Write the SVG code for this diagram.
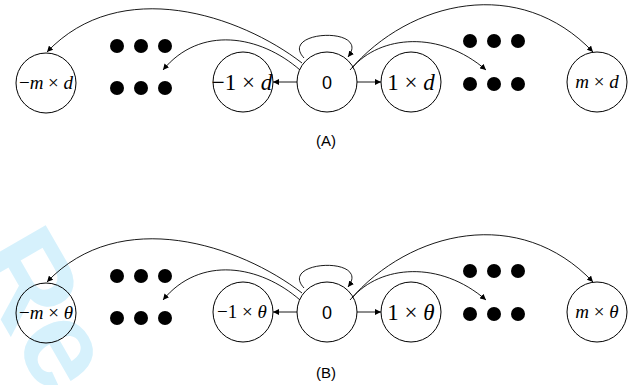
<svg xmlns="http://www.w3.org/2000/svg" width="638" height="385" viewBox="0 0 638 385">
<style>
.node{fill:none;stroke:#000;stroke-width:1}
.edge{fill:none;stroke:#000;stroke-width:0.9}
.dot{fill:#000}
.lbl{font-family:"Liberation Serif",serif;fill:#000;text-anchor:middle}
.lbl .v{font-style:italic}
.sm{font-size:19px}
.lg{font-size:23px}
.zero{font-family:"Liberation Sans",sans-serif;font-size:18px;text-anchor:middle}
.cap{font-family:"Liberation Sans",sans-serif;font-size:15px;text-anchor:middle}
</style>
<defs>
<marker id="ah" viewBox="0 0 10 10" refX="10" refY="5" markerWidth="6" markerHeight="6" markerUnits="userSpaceOnUse" orient="auto">
<path d="M0,0 L10,5 L0,10 z" fill="#000"/>
</marker>
<g id="panel-edges">
<path class="edge" d="M297,82 L273,82" marker-end="url(#ah)"/>
<path class="edge" d="M357,82 L381,82" marker-end="url(#ah)"/>
<path class="edge" d="M304,58 C278,30 372,26 348,57" marker-end="url(#ah)"/>
<path class="edge" d="M302,63 C240,15 120,-25 47,52" marker-end="url(#ah)"/>
<path class="edge" d="M300,70 C260,35 200,25 163,70" marker-end="url(#ah)"/>
<path class="edge" d="M352,68 C380,35 440,30 486,70" marker-end="url(#ah)"/>
<path class="edge" d="M350,70 C410,0 520,-25 593,52" marker-end="url(#ah)"/>
</g>
<g id="dots">
<circle class="dot" cx="117" cy="46" r="7"/><circle class="dot" cx="141" cy="46" r="7"/><circle class="dot" cx="165" cy="46" r="7"/>
<circle class="dot" cx="117" cy="88" r="7"/><circle class="dot" cx="141" cy="88" r="7"/><circle class="dot" cx="165" cy="88" r="7"/>
<circle class="dot" cx="470" cy="41" r="7"/><circle class="dot" cx="494" cy="41" r="7"/><circle class="dot" cx="518" cy="41" r="7"/>
<circle class="dot" cx="470" cy="84" r="7"/><circle class="dot" cx="494" cy="84" r="7"/><circle class="dot" cx="518" cy="84" r="7"/>
</g>
</defs>
<text transform="translate(-33,261) rotate(60)" font-family="Liberation Sans,sans-serif" font-weight="bold" font-size="125" fill="#d6f1fc">Re</text>

<g id="panelA">
<g id="connectorsA"><use href="#panel-edges"/></g>
<use href="#dots"/>
<g id="A-negm"><circle class="node" cx="46" cy="83" r="30"/><text class="lbl sm" x="46" y="89">−<tspan class="v">m</tspan> × <tspan class="v">d</tspan></text></g>
<g id="A-neg1"><circle class="node" cx="243" cy="82" r="30"/><text class="lbl lg" x="242" y="90">−1 × <tspan class="v">d</tspan></text></g>
<g id="A-zero"><circle class="node" cx="327" cy="82" r="30"/><text class="zero" x="327" y="89">0</text></g>
<g id="A-pos1"><circle class="node" cx="411" cy="82" r="30"/><text class="lbl lg" x="411" y="90">1 × <tspan class="v">d</tspan></text></g>
<g id="A-posm"><circle class="node" cx="597" cy="82" r="30"/><text class="lbl sm" x="597" y="88"><tspan class="v">m</tspan> × <tspan class="v">d</tspan></text></g>
<text class="cap" x="326" y="146">(A)</text>
</g>

<g id="panelB" transform="translate(0,230)">
<g id="connectorsB"><use href="#panel-edges"/></g>
<use href="#dots"/>
<g id="B-negm"><circle class="node" cx="46" cy="83" r="30"/><text class="lbl sm" x="46" y="89">−<tspan class="v">m</tspan> × <tspan class="v">θ</tspan></text></g>
<g id="B-neg1"><circle class="node" cx="243" cy="82" r="30"/><text class="lbl sm" x="242" y="88">−1 × <tspan class="v">θ</tspan></text></g>
<g id="B-zero"><circle class="node" cx="327" cy="82" r="30"/><text class="zero" x="327" y="89">0</text></g>
<g id="B-pos1"><circle class="node" cx="411" cy="82" r="30"/><text class="lbl lg" x="411" y="90">1 × <tspan class="v">θ</tspan></text></g>
<g id="B-posm"><circle class="node" cx="597" cy="82" r="30"/><text class="lbl sm" x="597" y="88"><tspan class="v">m</tspan> × <tspan class="v">θ</tspan></text></g>
<text class="cap" x="326" y="148">(B)</text>
</g>
</svg>
